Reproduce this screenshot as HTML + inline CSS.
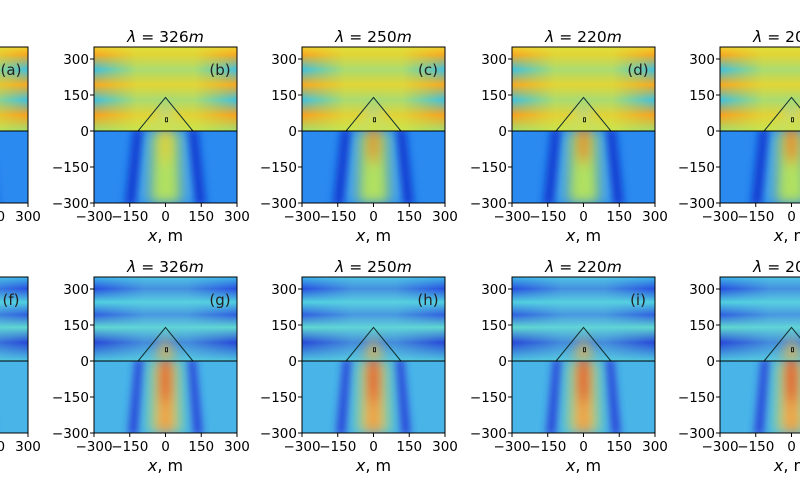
<!DOCTYPE html><html><head><meta charset="utf-8"><style>
body{margin:0;background:#fff;width:800px;height:480px;overflow:hidden}
svg{display:block;font-family:"DejaVu Sans","Liberation Sans",sans-serif}
</style></head><body>
<svg id="s" width="800" height="480" xmlns="http://www.w3.org/2000/svg"></svg>
<script>
const s=document.getElementById('s');
const W=143,Hh=156;
const X=m=>(m+300)/600*W, Y=m=>(350-m)/650*Hh;
let h='<defs>';
h+=`<clipPath id="cp"><rect x="0" y="0" width="${W}" height="${Hh}"/></clipPath>`;
h+=`<clipPath id="cl"><rect x="0" y="${Y(0)}" width="${W}" height="${Hh-Y(0)}"/></clipPath>`;
h+=`<clipPath id="cu"><rect x="0" y="0" width="${W}" height="${Y(0)}"/></clipPath>`;
h+=`<filter id="b3" x="-50%" y="-50%" width="200%" height="200%"><feGaussianBlur stdDeviation="4"/></filter>`;
h+=`<filter id="b6" x="-50%" y="-50%" width="200%" height="200%"><feGaussianBlur stdDeviation="6"/></filter>`;
h+=`<linearGradient id="tu" x1="0" y1="0" x2="0" y2="1">
<stop offset="0" stop-color="#f0d030"/><stop offset=".09" stop-color="#f8a820"/><stop offset=".27" stop-color="#40c0e0"/>
<stop offset=".45" stop-color="#f8a820"/><stop offset=".63" stop-color="#40c0e0"/>
<stop offset=".81" stop-color="#f8a020"/><stop offset="1" stop-color="#a0e070"/></linearGradient>`;
h+=`<linearGradient id="tc" x1="0" y1="0" x2="1" y2="0">
<stop offset="0" stop-color="#d8e840" stop-opacity="0"/><stop offset=".3" stop-color="#d8e840" stop-opacity=".7"/>
<stop offset=".7" stop-color="#d8e840" stop-opacity=".7"/><stop offset="1" stop-color="#d8e840" stop-opacity="0"/></linearGradient>`;
h+=`<linearGradient id="bu" x1="0" y1="0" x2="0" y2="1">
<stop offset="0" stop-color="#40b8e8"/><stop offset=".14" stop-color="#2850e0"/><stop offset=".3" stop-color="#50d0e0"/>
<stop offset=".45" stop-color="#3060e0"/><stop offset=".6" stop-color="#60d8d0"/><stop offset=".78" stop-color="#2848d8"/>
<stop offset="1" stop-color="#50c8e0"/></linearGradient>`;
h+=`<linearGradient id="bc" x1="0" y1="0" x2="1" y2="0">
<stop offset="0" stop-color="#60d0e0" stop-opacity="0"/><stop offset=".35" stop-color="#60d0e0" stop-opacity=".5"/>
<stop offset=".65" stop-color="#60d0e0" stop-opacity=".5"/><stop offset="1" stop-color="#60d0e0" stop-opacity="0"/></linearGradient>`;
h+='</defs>';
const lefts=[-115,94,302,512,720];
const titles=['400','326','250','220','200'];
const labs=[['a','b','c','d','e'],['f','g','h','i','j']];
const tops=[47,277];
const z=Y(0),B=Hh,cx=X(0);
function poly(pts){return pts.map(p=>X(p[0])+','+Y(p[1])).join(' ');}
for(let r=0;r<2;r++)for(let c=0;c<5;c++){
 const L=lefts[c],T=tops[r];
 const k=c/4;
 h+=`<g transform="translate(${L},${T})"><g clip-path="url(#cp)">`;
 if(!r){
  h+=`<rect x="0" y="0" width="${W}" height="${z}" fill="url(#tu)"/><rect x="0" y="0" width="${W}" height="${z}" fill="url(#tc)"/>`;
  h+=`<g clip-path="url(#cl)"><rect x="0" y="${z}" width="${W}" height="${B-z}" fill="#2a8af0"/>`;
  h+=`<g filter="url(#b6)"><polygon points="${poly([[-100,0],[-60,0],[-90,-300],[-140,-300]])}" fill="#50b0f0"/><polygon points="${poly([[100,0],[60,0],[90,-300],[140,-300]])}" fill="#50b0f0"/></g>`;
  h+=`<g filter="url(#b3)"><polygon points="${poly([[-135,10],[-95,10],[-125,-310],[-170,-310]])}" fill="#1038d0"/><polygon points="${poly([[135,10],[95,10],[125,-310],[170,-310]])}" fill="#1038d0"/></g>`;
  h+=`<g filter="url(#b6)"><polygon points="${poly([[-55,0],[55,0],[65,-300],[-65,-300]])}" fill="#b0e060"/>`;
  h+=`<ellipse cx="${cx}" cy="${Y(-50)}" rx="${X(22)-cx}" ry="${Y(0)-Y(90)}" fill="${k>0.3?'#f06010':'#f8c020'}" opacity="${0.6+k*0.4}"/></g></g>`;
  h+=`<g clip-path="url(#cu)" filter="url(#b6)"><polygon points="${poly([[-60,0],[0,120],[60,0]])}" fill="#60c8e0" opacity=".7"/><ellipse cx="${cx}" cy="${Y(30)}" rx="10" ry="10" fill="#d0e040"/></g>`;
 }else{
  h+=`<rect x="0" y="0" width="${W}" height="${z}" fill="url(#bu)"/><rect x="0" y="0" width="${W}" height="${z}" fill="url(#bc)"/>`;
  h+=`<g clip-path="url(#cl)"><rect x="0" y="${z}" width="${W}" height="${B-z}" fill="#48b4e8"/>`;
  h+=`<g filter="url(#b3)"><polygon points="${poly([[-125,10],[-95,10],[-120,-310],[-155,-310]])}" fill="#2838d8"/><polygon points="${poly([[125,10],[95,10],[120,-310],[155,-310]])}" fill="#2838d8"/></g>`;
  h+=`<g filter="url(#b6)"><polygon points="${poly([[-60,0],[60,0],[70,-300],[-70,-300]])}" fill="#90e090"/>`;
  h+=`<polygon points="${poly([[-35,0],[35,0],[40,-300],[-40,-300]])}" fill="#f0a040"/>`;
  h+=`<ellipse cx="${cx}" cy="${Y(-70)}" rx="${X(22)-cx}" ry="${Y(0)-Y(110)}" fill="#e01808" opacity="${0.6+k*0.4}"/></g></g>`;
  h+=`<g clip-path="url(#cu)" filter="url(#b6)"><polygon points="${poly([[-45,0],[0,110],[45,0]])}" fill="#f0b040" opacity=".85"/></g>`;
 }
 h+=`</g>`;
 h+=`<polyline points="${poly([[-115,0],[0,140],[115,0]])}" fill="none" stroke="#103030" stroke-width="1"/>`;
 h+=`<line x1="0" y1="${z}" x2="${W}" y2="${z}" stroke="#000" stroke-width="1"/>`;
 h+=`<rect x="${cx}" y="${Y(55)}" width="2" height="4" fill="none" stroke="#000" stroke-width=".8"/>`;
 h+=`<rect x="0" y="0" width="${W}" height="${Hh}" fill="none" stroke="#000" stroke-width="1"/>`;
 h+=`<text x="${W-17}" y="28" font-size="15" fill="#222" text-anchor="middle">(${labs[r][c]})</text>`;
 h+=`<text x="${cx}" y="-5" font-size="15.5" text-anchor="middle"><tspan font-style="italic">λ</tspan> = ${titles[c]}<tspan font-style="italic">m</tspan></text>`;
 const yt=[300,150,0,-150,-300];
 yt.forEach(v=>{const y=Y(v);h+=`<line x1="-4" y1="${y}" x2="0" y2="${y}" stroke="#000"/><text x="-5" y="${y+5}" font-size="13.5" text-anchor="end">${v<0?'−'+(-v):v}</text>`;});
 yt.forEach(v=>{const x=X(v);h+=`<line x1="${x}" y1="${B}" x2="${x}" y2="${B+4}" stroke="#000"/><text x="${x}" y="${B+18}" font-size="13.5" text-anchor="middle">${v<0?'−'+(-v):v}</text>`;});
 h+=`<text x="${cx}" y="${B+38}" font-size="16" text-anchor="middle"><tspan font-style="italic">x</tspan>, m</text>`;
 h+=`</g>`;
}
s.innerHTML=h;
</script>
</body></html>
